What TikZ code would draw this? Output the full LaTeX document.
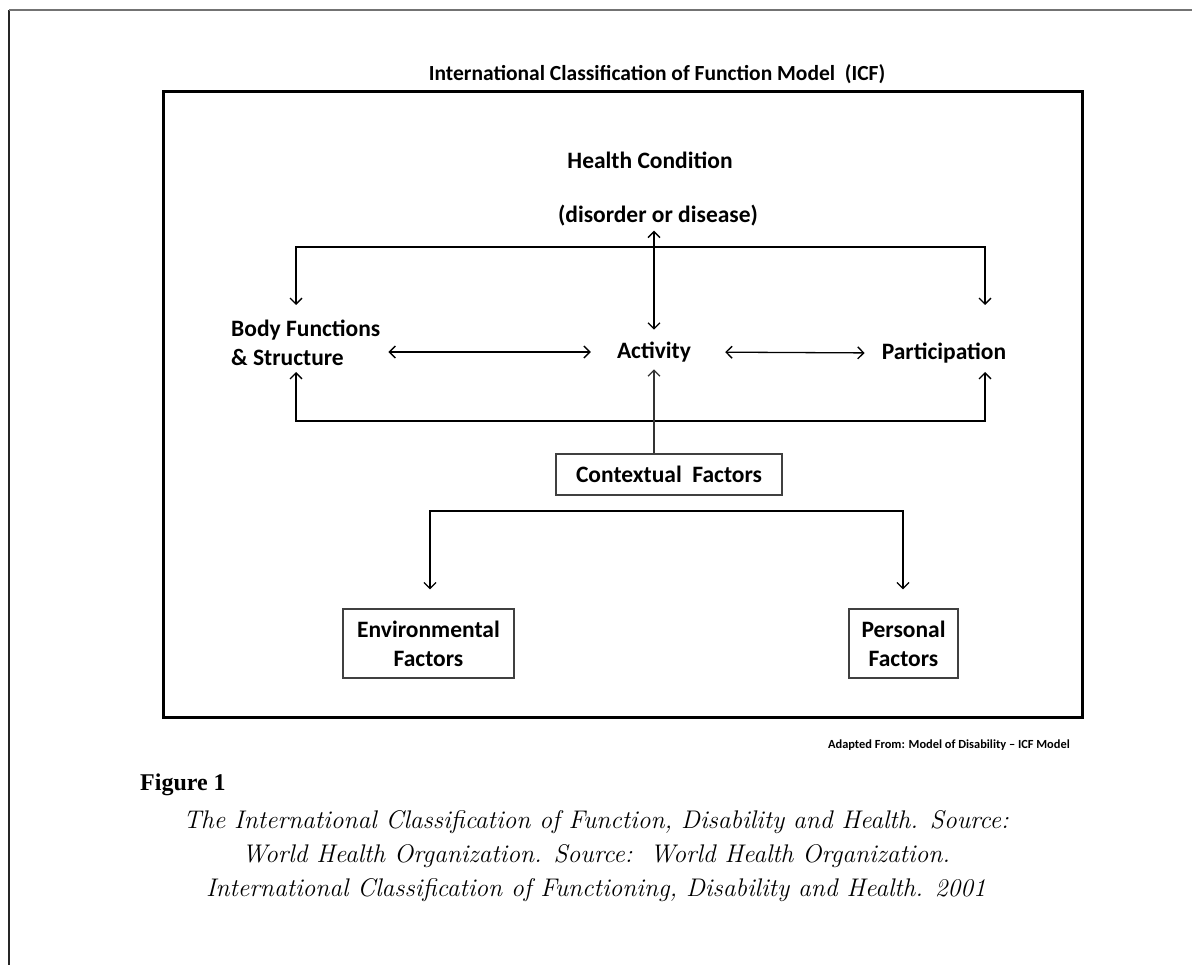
\documentclass[tikz,border=0pt]{standalone}
\usepackage{fontspec}
\newfontfamily\calib{Carlito}
\newfontfamily\figserif{Liberation Serif}
\usetikzlibrary{arrows.meta}
\begin{document}
\begin{tikzpicture}[x=1pt,y=-1pt,
  lbl/.style={font=\calib\bfseries\fontsize{23.5}{29}\selectfont, inner sep=0pt},
  fbox/.style={lbl, draw=black!75, line width=1.2pt, align=center},
  arr/.style={-{Straight Barb[length=6pt,width=12pt]}, line width=1.3pt},
  darr/.style={{Straight Barb[length=6pt,width=12pt]}-{Straight Barb[length=6pt,width=12pt]}, line width=1.3pt}]
\useasboundingbox (0,0) rectangle (1192,965);
% outer frame
\coordinate (f0) at (9,965);
\coordinate (f1) at (9,10);
\coordinate (f2) at (1192,10);
\draw[black!85, line width=1.3pt] (f0) -- (f1);
\draw[black!55, line width=1.8pt] (f1) -- (f2);
% inner frame
\coordinate (i0) at (163,92);
\coordinate (i1) at (1082,717);
\draw[line width=3pt] (i0) rectangle (i1);
% title
\node[lbl, font=\calib\bfseries\fontsize{21.5}{24}\selectfont] (title) at (657,74) {International Classification of Function Model\ \ (ICF)};
% nodes
\node[lbl] (hc) at (650,160) {Health Condition};
\node[lbl] (dis) at (658,216) {(disorder or disease)};
\node[lbl, align=left, anchor=west] (body) at (231,343) {Body Functions\\\& Structure};
\node[lbl] (act) at (654,352) {Activity};
\node[lbl] (part) at (944,353) {Participation};
\node[fbox, minimum width=226pt, minimum height=41pt] (ctx) at (669,474.5) {Contextual\ \ Factors};
\node[fbox, minimum width=171pt, minimum height=69pt] (env) at (428.5,643.5) {Environmental\\Factors};
\node[fbox, minimum width=109pt, minimum height=69pt] (pers) at (903.5,643.5) {Personal\\Factors};
% loop coordinates
\coordinate (tl) at (296,247);
\coordinate (tr) at (985,247);
\coordinate (bl) at (296,421);
\coordinate (br) at (985,421);
\coordinate (bodyin) at (296,305);
\coordinate (partin) at (985,305);
\coordinate (bodyout) at (296,372);
\coordinate (partout) at (985,372);
\coordinate (cl) at (430,511);
\coordinate (cr) at (903,511);
% connectors
\draw[arr] (tr) -- (tl) -- (bodyin);
\draw[arr] (tl) -- (tr) -- (partin);
\draw[arr] (br) -- (bl) -- (bodyout);
\draw[arr] (bl) -- (br) -- (partout);
\draw[darr, shorten <=4pt, shorten >=12pt] (dis.south -| act) -- (act.north);
\draw[darr, shorten <=8pt, shorten >=26pt] (body.east |- act) -- (act.west);
\draw[darr, shorten <=34pt, shorten >=17pt] (act.east) -- (part.west);
\draw[arr, black!80, shorten >=7pt] (ctx.north -| act) -- (act.south);
\draw[arr, shorten >=19pt] (cr) -- (cl) -- (env.north -| cl);
\draw[arr, shorten >=19pt] (cl) -- (cr) -- (pers.north -| cr);
% texts
\node[lbl, font=\calib\bfseries\fontsize{12.4}{14}\selectfont, anchor=east] (adapt) at (1070,745) {Adapted From: Model of Disability – ICF Model};
\node[inner sep=0pt, anchor=west, font=\figserif\bfseries\fontsize{24}{28}\selectfont] (fig) at (140,785) {Figure 1};
\node[inner sep=0pt, align=center, font=\itshape\fontsize{25.5}{34}\selectfont] (cap) at (596,856) {The International Classification of Function, Disability and Health. Source:\\World Health Organization. Source:\ \ World Health Organization.\\International Classification of Functioning, Disability and Health. 2001};
\end{tikzpicture}
\end{document}
